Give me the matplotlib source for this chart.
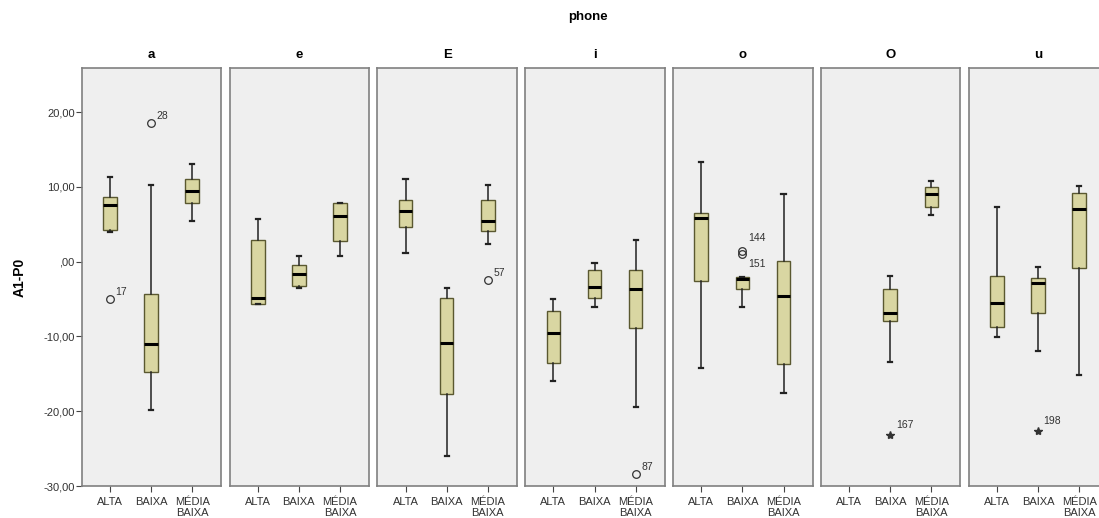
import matplotlib.pyplot as plt

# phones (panels) and groups (x categories)
phones = ["a", "e", "E", "i", "o", "O", "u"]
groups = ["ALTA", "BAIXA", "MÉDIA\nBAIXA"]

# box stats per phone, one value per group (None = no data)
whisker_low = [[4.0, -19.8, 5.4], [-5.7, -3.5, 0.7], [1.2, -26.0, 2.3], [-15.9, -6.1, -19.5],
               [-14.2, -6.1, -17.6], [None, -13.4, 6.3], [-10.1, -12.0, -15.1]]
box_q1 = [[4.2, -14.7, 7.9], [-5.7, -3.2, 2.8], [4.6, -17.7, 4.1], [-13.6, -4.8, -8.9],
          [-2.6, -3.7, -13.7], [None, -7.9, 7.3], [-8.7, -6.8, -0.8]]
medians = [[7.6, -11.0, 9.5], [-4.9, -1.6, 6.1], [6.8, -10.9, 5.5], [-9.6, -3.4, -3.6],
           [5.9, -2.3, -4.6], [None, -6.9, 9.1], [-5.5, -2.9, 7.1]]
box_q3 = [[8.6, -4.3, 11.0], [2.9, -0.5, 7.8], [8.2, -4.9, 8.3], [-6.6, -1.1, -1.1],
          [6.5, -2.1, 0.1], [None, -3.7, 10.0], [-1.9, -2.2, 9.2]]
whisker_high = [[11.3, 10.3, 13.0], [5.7, 0.7, 7.8], [11.1, -3.5, 10.3], [-5.0, -0.2, 2.9],
                [13.3, -2.1, 9.0], [None, -1.9, 10.8], [7.3, -0.7, 10.1]]

# outliers (o) and extremes (*) with case labels
out_phone = ["a", "a", "E", "i", "o", "o", "O", "u"]
out_group = [0, 1, 2, 2, 1, 1, 1, 1]
out_value = [-5.0, 18.5, -2.5, -28.4, 1.4, 1.0, -23.2, -22.7]
out_label = ["17", "28", "57", "87", "144", "151", "167", "198"]
out_kind = ["o", "o", "o", "o", "o", "o", "*", "*"]
label_offset = [(4, 3), (4, 3), (4, 3), (4, 3), (4, 7), (4, -9), (4, 5), (4, 5)]

yticks = [-30, -20, -10, 0, 10, 20]
ytick_labels = ["-30,00", "-20,00", "-10,00", ",00", "10,00", "20,00"]

plt.rcParams["font.family"] = ["Liberation Sans", "DejaVu Sans"]

fig = plt.figure(figsize=(10.99, 5.18), dpi=100)
left0 = 81.7 / 1099
pw = 139.5 / 1099
step = 147.83 / 1099
bottom = 1 - 486 / 518
height = (486 - 68) / 518

box_face = "#d9d6a2"
box_edge = "#5a5830"
text_col = "#333333"

for p, ph in enumerate(phones):
    ax = fig.add_axes([left0 + p * step, bottom, pw, height])
    ax.set_facecolor("#efefef")
    stats, pos = [], []
    for g in range(3):
        if medians[p][g] is None:
            continue
        stats.append(dict(whislo=whisker_low[p][g], q1=box_q1[p][g], med=medians[p][g],
                          q3=box_q3[p][g], whishi=whisker_high[p][g], fliers=[]))
        pos.append(g + 1)
    ax.bxp(stats, positions=pos, widths=0.33, patch_artist=True, showfliers=False,
           capwidths=0.1,
           boxprops=dict(facecolor=box_face, edgecolor=box_edge, linewidth=1),
           medianprops=dict(color="black", linewidth=2.2),
           whiskerprops=dict(color="#222222", linewidth=1.1),
           capprops=dict(color="#222222", linewidth=1.6))

    for ph2, g, v, lab, kind, off in zip(out_phone, out_group, out_value, out_label,
                                         out_kind, label_offset):
        if ph2 != ph:
            continue
        if kind == "o":
            ax.plot(g + 1, v, "o", mfc="none", mec="#333333", ms=5.5, mew=0.9)
        else:
            ax.plot(g + 1, v, "*", color="#333333", ms=6)
        ax.annotate(lab, (g + 1, v), xytext=off, textcoords="offset points",
                    fontsize=7.5, color=text_col)

    ax.set_xlim(0.315, 3.705)
    ax.set_ylim(-30, 25.9)
    ax.set_xticks([1, 2, 3])
    ax.set_xticklabels(groups, fontsize=8, color=text_col, linespacing=1.15)
    ax.tick_params(axis="x", length=4, color="#444444", pad=4)
    if p == 0:
        ax.set_yticks(yticks)
        ax.set_yticklabels(ytick_labels, fontsize=8, color=text_col)
        ax.tick_params(axis="y", length=4, color="#444444", pad=1)
        ax.set_ylabel("A1-P0", fontsize=10, fontweight="bold", labelpad=12)
    else:
        ax.set_yticks([])
    for s in ax.spines.values():
        s.set_color("#808080")
        s.set_linewidth(1.2)
    ax.set_title(ph, fontsize=9.5, fontweight="bold", pad=7)

fig.text(0.535, 1 - 17 / 518, "phone", ha="center", va="center",
         fontsize=9.5, fontweight="bold")

fig.savefig("out.png", dpi=100)
